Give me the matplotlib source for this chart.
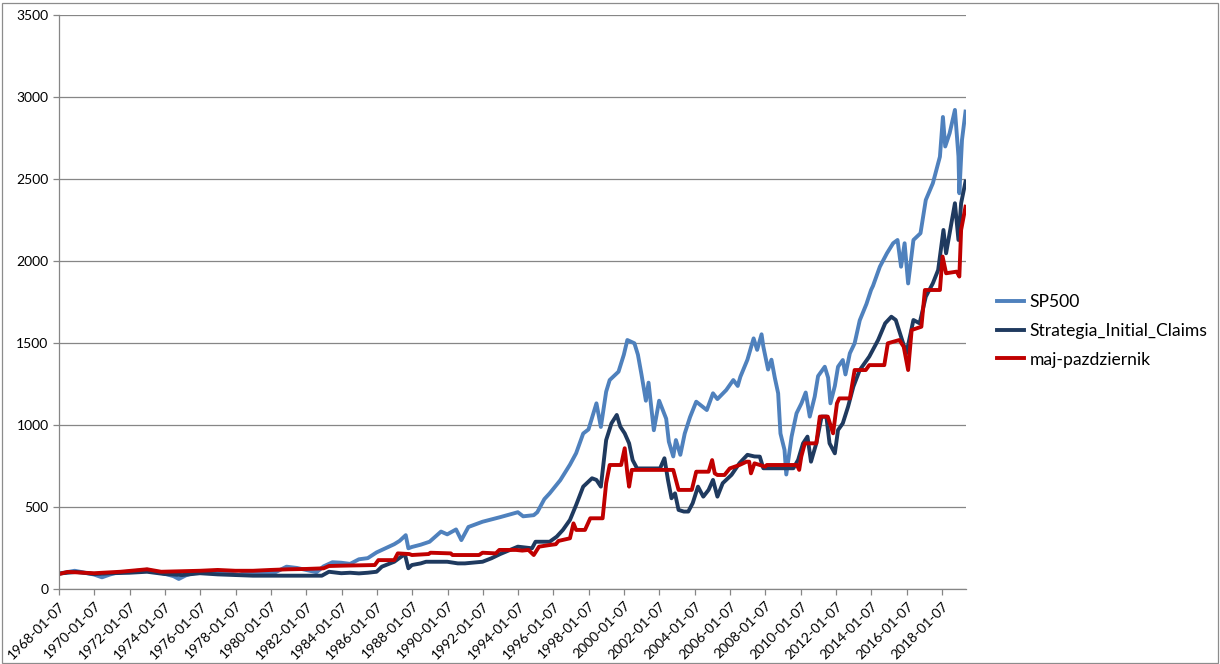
import numpy as np
import matplotlib
matplotlib.use("Agg")
import matplotlib.pyplot as plt
from matplotlib.patches import Rectangle

plt.rcParams['font.family'] = ['Lato', 'DejaVu Sans']

# --- data (decimal year, value) ---
sp500_x = [1968.02, 1968.9, 1969.5, 1970.0, 1970.45, 1970.9, 1971.3, 1972.0, 1972.9, 1973.0,
           1973.5, 1974.0, 1974.5, 1974.8, 1975.2, 1975.5, 1976.0, 1976.9, 1977.5, 1978.2,
           1978.7, 1979.0, 1979.8, 1980.2, 1980.9, 1981.5, 1982.0, 1982.6, 1983.0, 1983.5,
           1984.0, 1984.5, 1985.0, 1985.5, 1986.0, 1986.3, 1987.0, 1987.3, 1987.65, 1987.8,
           1988.0, 1988.5, 1989.0, 1989.65, 1990.0, 1990.5, 1990.8, 1991.2, 1992.0, 1993.0,
           1994.0, 1994.3, 1994.9, 1995.1, 1995.5, 1995.8, 1996.4, 1996.95, 1997.3, 1997.7,
           1998.0, 1998.45, 1998.7, 1999.0, 1999.2, 1999.7, 2000.0, 2000.2, 2000.6, 2000.8,
           2001.0, 2001.25, 2001.4, 2001.7, 2002.0, 2002.4, 2002.55, 2002.8, 2002.95, 2003.2,
           2003.45, 2003.75, 2004.1, 2004.7, 2005.05, 2005.3, 2005.8, 2006.2, 2006.45, 2006.6,
           2007.0, 2007.35, 2007.55, 2007.8, 2007.9, 2008.17, 2008.36, 2008.55, 2008.74, 2008.87,
           2009.1, 2009.2, 2009.5, 2009.78, 2010.06, 2010.3, 2010.53, 2010.81, 2011.0, 2011.38,
           2011.57, 2011.7, 2011.95, 2012.13, 2012.4, 2012.55, 2012.8, 2013.07, 2013.36, 2013.55,
           2013.74, 2014.0, 2014.11, 2014.5, 2014.9, 2015.25, 2015.5, 2015.7, 2015.9, 2016.1,
           2016.4, 2016.8, 2017.1, 2017.5, 2017.9, 2018.07, 2018.2, 2018.45, 2018.75, 2018.95,
           2019.0, 2019.15, 2019.35]
sp500_y = [96, 113, 101, 90, 73, 90, 102, 108, 118, 120,
           107, 95, 80, 63, 85, 95, 105, 110, 100, 88,
           103, 98, 105, 100, 138, 130, 118, 104, 140, 165,
           162, 155, 183, 190, 225, 240, 275, 295, 330, 250,
           258, 272, 290, 352, 335, 365, 300, 380, 412, 440,
           470, 445, 452, 470, 550, 585, 665, 760, 830, 950,
           975, 1134, 990, 1205, 1276, 1327, 1430, 1520, 1500, 1430,
           1310, 1150, 1260, 970, 1150, 1040, 900, 810, 910, 820,
           950, 1050, 1144, 1093, 1195, 1160, 1215, 1276, 1240, 1296,
           1400, 1530, 1460, 1555, 1480, 1340, 1400, 1290, 1195, 950,
           850, 700, 931, 1073, 1134, 1200, 1053, 1175, 1300, 1357,
           1290, 1134, 1240, 1357, 1398, 1310, 1439, 1500, 1640, 1690,
           1740, 1825, 1850, 1967, 2049, 2110, 2130, 1967, 2110, 1865,
           2130, 2171, 2374, 2476, 2638, 2880, 2700, 2781, 2923, 2640,
           2415, 2740, 2913]

claims_x = [1968.02, 1969.0, 1970.0, 1971.0, 1972.0, 1973.0, 1974.0, 1975.0, 1976.0, 1977.0,
            1978.0, 1979.0, 1982.9, 1983.3, 1984.0, 1984.5, 1985.0, 1985.5, 1986.0, 1986.3,
            1987.0, 1987.6, 1987.8, 1988.0, 1988.5, 1988.8, 1990.0, 1990.6, 1991.0, 1992.0,
            1992.5, 1993.0, 1994.0, 1994.8, 1995.0, 1995.8, 1996.2, 1996.55, 1996.95, 1997.3,
            1997.7, 1998.2, 1998.45, 1998.7, 1999.0, 1999.3, 1999.6, 1999.8, 2000.05, 2000.3,
            2000.5, 2000.75, 2002.05, 2002.3, 2002.5, 2002.7, 2002.9, 2003.1, 2003.4, 2003.65,
            2003.9, 2004.2, 2004.5, 2004.8, 2005.05, 2005.3, 2005.6, 2006.1, 2006.55, 2007.0,
            2007.4, 2007.7, 2007.9, 2009.6, 2009.87, 2010.15, 2010.4, 2010.6, 2010.9, 2011.2,
            2011.47, 2011.65, 2011.95, 2012.13, 2012.4, 2012.7, 2013.0, 2013.36, 2013.9, 2014.4,
            2014.8, 2015.15, 2015.4, 2015.7, 2016.0, 2016.4, 2016.75, 2017.1, 2017.5, 2017.8,
            2018.1, 2018.25, 2018.55, 2018.75, 2018.95, 2019.1, 2019.35]
claims_y = [96, 106, 93, 98, 101, 107, 93, 87, 98, 91,
            87, 83, 83, 107, 98, 101, 97, 101, 107, 138,
            168, 215, 128, 148, 158, 168, 168, 158, 158, 168,
            189, 215, 260, 250, 290, 290, 321, 362, 423, 514,
            626, 677, 667, 626, 910, 1012, 1063, 992, 951, 890,
            788, 737, 737, 799, 667, 555, 585, 484, 474, 474,
            525, 626, 565, 606, 667, 565, 647, 698, 769, 820,
            810, 809, 738, 738, 789, 890, 931, 778, 890, 1053,
            1053, 890, 829, 971, 1012, 1114, 1236, 1337, 1419, 1520,
            1622, 1662, 1642, 1540, 1439, 1642, 1622, 1784, 1866, 1947,
            2191, 2049, 2232, 2354, 2130, 2354, 2486]

majpaz_x = [1968.02, 1968.5, 1970.0, 1971.5, 1973.0, 1973.8, 1976.0, 1977.0, 1978.0, 1979.0,
            1980.0, 1981.0, 1982.0, 1983.0, 1983.3, 1984.0, 1985.9, 1986.1, 1987.0, 1987.2,
            1987.85, 1988.0, 1988.95, 1989.05, 1990.2, 1990.3, 1991.8, 1992.0, 1992.75, 1992.95,
            1993.9, 1994.25, 1994.6, 1994.9, 1995.2, 1995.8, 1996.15, 1996.3, 1996.95, 1997.15,
            1997.3, 1997.8, 1998.1, 1998.8, 1999.0, 1999.2, 1999.85, 2000.05, 2000.2, 2000.3,
            2000.45, 2002.8, 2003.1, 2003.85, 2004.1, 2004.8, 2005.0, 2005.15, 2005.3, 2005.7,
            2006.0, 2006.55, 2006.95, 2007.1, 2007.2, 2007.4, 2008.0, 2008.1, 2009.8, 2009.93,
            2010.05, 2010.25, 2010.9, 2011.1, 2011.55, 2011.85, 2012.07, 2012.2, 2012.8, 2013.07,
            2013.7, 2013.9, 2014.75, 2014.95, 2015.6, 2015.85, 2016.1, 2016.3, 2016.85, 2017.05,
            2017.9, 2018.05, 2018.25, 2018.85, 2019.0, 2019.1, 2019.35]
majpaz_y = [93, 106, 98, 107, 122, 107, 113, 118, 113, 113,
            118, 122, 124, 128, 142, 144, 148, 178, 178, 219,
            215, 209, 215, 223, 219, 209, 209, 223, 219, 240,
            240, 236, 240, 209, 260, 270, 275, 295, 311, 402,
            362, 362, 433, 433, 647, 758, 758, 860, 707, 626,
            728, 728, 606, 606, 717, 717, 788, 707, 697, 697,
            737, 758, 778, 778, 707, 768, 748, 758, 758, 728,
            809, 890, 890, 1053, 1053, 951, 1134, 1164, 1164, 1337,
            1337, 1367, 1367, 1500, 1520, 1479, 1337, 1581, 1601, 1825,
            1825, 2029, 1927, 1937, 1907, 2191, 2333]

tick_years = list(range(1968, 2019, 2))
tick_labels = [f"{y}-01-07" for y in tick_years]
y_ticks = list(range(0, 3501, 500))

fig = plt.figure(figsize=(12.2, 6.64), dpi=100)
ax = fig.add_axes([59 / 1220, 1 - 589.3 / 664, (965.7 - 59) / 1220, (589.3 - 15.3) / 664])

ax.plot(sp500_x, sp500_y, color="#4f81bd", lw=2.8, label="SP500", solid_joinstyle="round")
ax.plot(claims_x, claims_y, color="#1f3a5f", lw=2.8, label="Strategia_Initial_Claims",
        solid_joinstyle="round")
ax.plot(majpaz_x, majpaz_y, color="#c00000", lw=2.8, label="maj-pazdziernik",
        solid_joinstyle="round")

ax.set_xlim(1968.016, 2019.36)
ax.set_ylim(0, 3500)
ax.set_yticks(y_ticks)
ax.set_xticks([y + 6 / 365.25 for y in tick_years])
ax.set_xticklabels(tick_labels, rotation=45, ha="right", rotation_mode="anchor")
ax.tick_params(axis="both", labelsize=10, colors="#000000", length=4, width=0.9)
ax.tick_params(axis="both", color="#868686")
ax.yaxis.grid(True, color="#868686", lw=0.9)
ax.set_axisbelow(True)
for s in ["top", "right"]:
    ax.spines[s].set_visible(False)
for s in ["left", "bottom"]:
    ax.spines[s].set_color("#868686")
    ax.spines[s].set_linewidth(0.9)

fig.legend(loc="center left", bbox_to_anchor=(997 / 1220, 1 - 331 / 664), frameon=False,
           fontsize=12.6, handlelength=1.55, handletextpad=0.3, labelspacing=0.72,
           borderpad=0, borderaxespad=0)

fig.add_artist(Rectangle((1.5 / 1220, 1.5 / 664), 1216 / 1220, 660 / 664, transform=fig.transFigure,
                         fill=False, edgecolor="#8c8c8c", lw=0.9))

fig.savefig("out.png", dpi=100)
